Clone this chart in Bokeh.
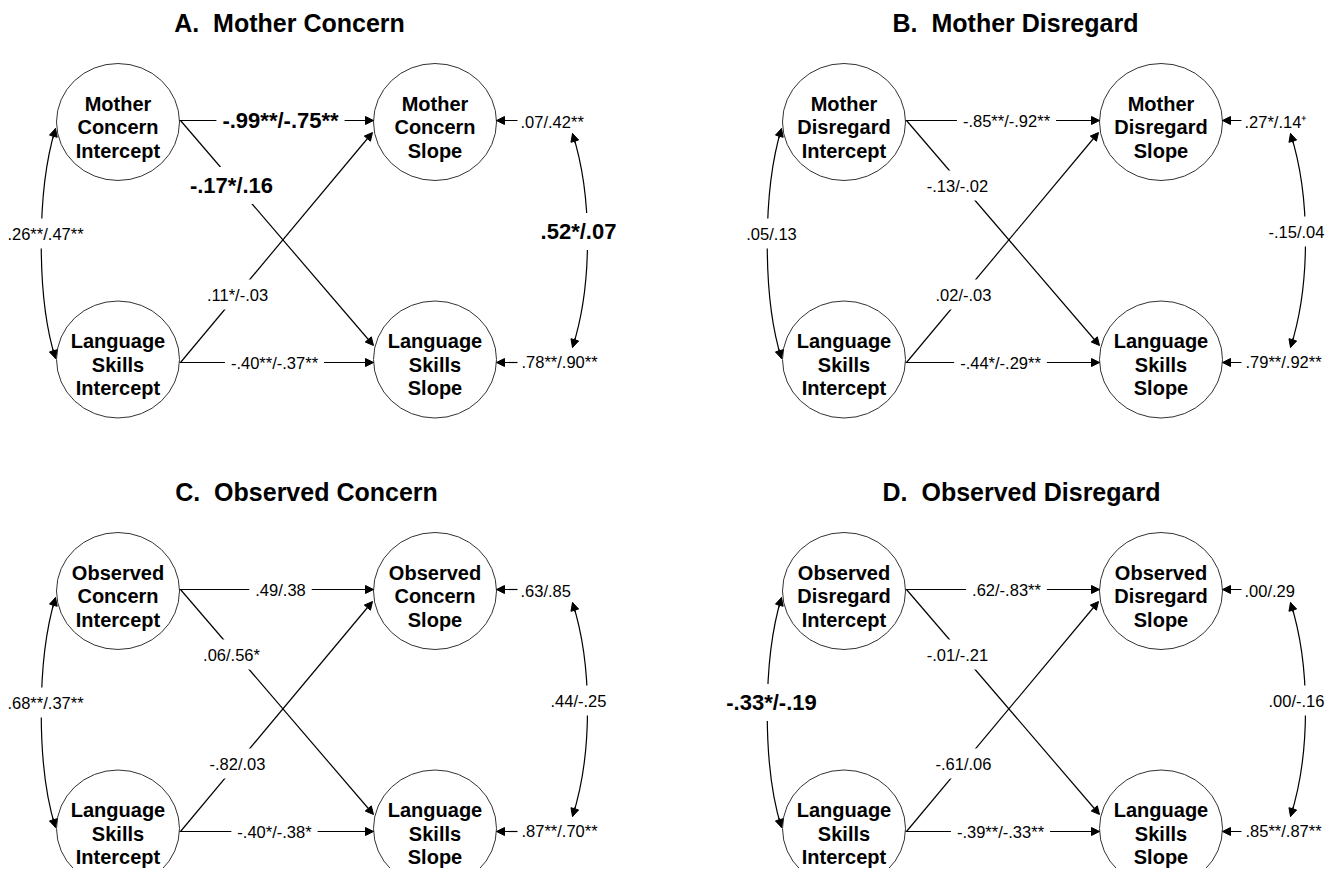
from bokeh.plotting import figure
from bokeh.models import Range1d, Arrow, NormalHead, Label, ColumnDataSource
from bokeh.embed import file_html
from bokeh.resources import INLINE
from bokeh.core.properties import value

# ---------------- data ----------------
panel_titles = ["A.\u00a0 Mother Concern", "B.\u00a0 Mother Disregard",
                "C.\u00a0 Observed Concern", "D.\u00a0 Observed Disregard"]
construct_names = ["Mother Concern", "Mother Disregard",
                   "Observed Concern", "Observed Disregard"]
outcome_name = "Language Skills"

path_top = ["-.99**/-.75**", "-.85**/-.92**", ".49/.38", ".62/-.83**"]
path_cross_down = ["-.17*/.16", "-.13/-.02", ".06/.56*", "-.01/-.21"]
path_cross_up = [".11*/-.03", ".02/-.03", "-.82/.03", "-.61/.06"]
path_bottom = ["-.40**/-.37**", "-.44*/-.29**", "-.40*/-.38*", "-.39**/-.33**"]
cov_intercepts = [".26**/.47**", ".05/.13", ".68**/.37**", "-.33*/-.19"]
cov_slopes = [".52*/.07", "-.15/.04", ".44/-.25", ".00/-.16"]
resid_top = [".07/.42**", ".27*/.14\u207a", ".63/.85", ".00/.29"]
resid_bottom = [".78**/.90**", ".79**/.92**", ".87**/.70**", ".85**/.87**"]
# highlighted (bold) coefficients: (kind, panel index)
bold_labels = {("top", 0), ("down", 0), ("cov_s", 0), ("cov_i", 3)}

# ---------------- layout ----------------
FONT = "Liberation Sans"
W, H = 1326, 868
offsets = [(0, 0), (726, 0), (0, 469), (726, 469)]
title_x = [289, 289, 306, 295]
title_y = 22
cov_s_x = [578, 570, 578, 570]
resid_x = [520, 518, 520, 518]

LX, RX = 117.5, 434.5
TY, BY = 121.5, 359.0
CW, CH = 123, 117

p = figure(width=W, height=H, x_range=Range1d(0, W), y_range=Range1d(H, 0),
           output_backend="svg", toolbar_location=None, min_border=0)
p.axis.visible = False
p.grid.visible = False
p.outline_line_color = None
p.background_fill_color = "white"
p.border_fill_color = "white"

circ = dict(x=[], y=[])
ntext = dict(x=[], y=[], t=[])
ttl = dict(x=[], y=[], t=[])
arr = dict(x0=[], y0=[], x1=[], y1=[])
curves = dict(x0=[], y0=[], x1=[], y1=[], cx0=[], cy0=[], cx1=[], cy1=[])
labels = []


def bez(P0, C1, C2, P3, t):
    mt = 1 - t
    return (mt**3 * P0[0] + 3 * mt**2 * t * C1[0] + 3 * mt * t**2 * C2[0] + t**3 * P3[0],
            mt**3 * P0[1] + 3 * mt**2 * t * C1[1] + 3 * mt * t**2 * C2[1] + t**3 * P3[1])


def add_arrow(a, b):
    arr["x0"].append(a[0]); arr["y0"].append(a[1])
    arr["x1"].append(b[0]); arr["y1"].append(b[1])


def add_curve(P0, C1, C2, P3):
    curves["x0"].append(P0[0]); curves["y0"].append(P0[1])
    curves["x1"].append(P3[0]); curves["y1"].append(P3[1])
    curves["cx0"].append(C1[0]); curves["cy0"].append(C1[1])
    curves["cx1"].append(C2[0]); curves["cy1"].append(C2[1])
    add_arrow(bez(P0, C1, C2, P3, 0.05), P0)
    add_arrow(bez(P0, C1, C2, P3, 0.95), P3)


for i, (dx, dy) in enumerate(offsets):
    def P(x, y):
        return (x + dx, y + dy)

    ttl["x"].append(title_x[i] + dx); ttl["y"].append(title_y + dy); ttl["t"].append(panel_titles[i])

    nodes = [
        (LX, TY, construct_names[i].split() + ["Intercept"]),
        (RX, TY, construct_names[i].split() + ["Slope"]),
        (LX, BY, outcome_name.split() + ["Intercept"]),
        (RX, BY, outcome_name.split() + ["Slope"]),
    ]
    for (cx, cy, words) in nodes:
        circ["x"].append(cx + dx); circ["y"].append(cy + dy)
        for k, w in enumerate(words):
            ntext["x"].append(cx + dx)
            ntext["y"].append(cy + dy - 18.5 + 23.5 * k)
            ntext["t"].append(w)

    # structural paths
    add_arrow(P(179, 120), P(373, 120))
    add_arrow(P(179, 362), P(373, 362))
    add_arrow(P(180, 120), P(373, 345))
    add_arrow(P(180, 362), P(372, 132))
    # residual arrows
    add_arrow(P(resid_x[i] - 3, 120), P(496, 120))
    add_arrow(P(resid_x[i] - 3, 362), P(496, 362))
    # covariances
    add_curve(P(55, 128), P(36, 190), P(36, 298), P(55, 358))
    cs = cov_s_x[i]
    add_curve(P(cs - 6, 133), P(cs + 14, 195), P(cs + 14, 285), P(cs - 6, 347))

    spec = [
        ("top", path_top[i], 280, 120),
        ("down", path_cross_down[i], 231, 185),
        ("up", path_cross_up[i], 237, 294),
        ("bottom", path_bottom[i], 274, 362),
        ("cov_i", cov_intercepts[i], 45, 233),
        ("cov_s", cov_slopes[i], cs, 231),
    ]
    for kind, txt, lx, ly in spec:
        b = (kind, i) in bold_labels
        labels.append(Label(x=lx + dx, y=ly + dy, text=txt, text_align="center",
                            text_baseline="middle", text_font=FONT,
                            text_font_size="22px" if b else "16.5px",
                            text_font_style="bold" if b else "normal",
                            text_color="black", background_fill_color="white",
                            padding=6))
    labels.append(Label(x=resid_x[i] + dx, y=121 + dy, text=resid_top[i], text_align="left",
                        text_baseline="middle", text_font=FONT, text_font_size="16.5px",
                        text_color="black"))
    labels.append(Label(x=resid_x[i] + 1 + dx, y=361 + dy, text=resid_bottom[i], text_align="left",
                        text_baseline="middle", text_font=FONT, text_font_size="16.5px",
                        text_color="black"))

p.bezier(x0="x0", y0="y0", x1="x1", y1="y1", cx0="cx0", cy0="cy0", cx1="cx1", cy1="cy1",
         source=ColumnDataSource(curves), line_color="black", line_width=1.2)
p.ellipse(x="x", y="y", width=CW, height=CH, source=ColumnDataSource(circ),
          fill_color="white", line_color="#333333", line_width=1)
p.text(x="x", y="y", text="t", source=ColumnDataSource(ntext), text_align="center",
       text_baseline="middle", text_font=value(FONT), text_font_size="20px",
       text_font_style="bold", text_color="black")
p.text(x="x", y="y", text="t", source=ColumnDataSource(ttl), text_align="center",
       text_baseline="middle", text_font=value(FONT), text_font_size="25px",
       text_font_style="bold", text_color="black")

p.add_layout(Arrow(end=NormalHead(size=8, fill_color="black", line_color="black", line_width=1),
                   x_start="x0", y_start="y0", x_end="x1", y_end="y1",
                   source=ColumnDataSource(arr), line_color="black", line_width=1.2))
for lb in labels:
    p.add_layout(lb)

open("out.html", "w").write(file_html(p, INLINE))
